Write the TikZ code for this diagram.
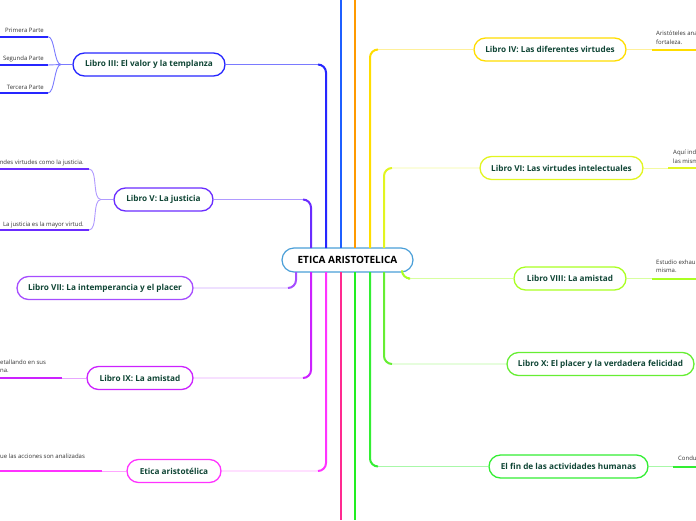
\documentclass[tikz,border=0pt]{standalone}
\usepackage{fontspec}
\setmainfont{Open Sans}
\usetikzlibrary{calc}
\definecolor{txt}{HTML}{0F4535}
\definecolor{leaftxt}{HTML}{333333}
\definecolor{cCen}{HTML}{4A9FD8}
\definecolor{cIII}{HTML}{2626FF}\definecolor{lIII}{HTML}{7A7AFF}
\definecolor{cV}{HTML}{6A2CFF}\definecolor{lV}{HTML}{B09AFF}
\definecolor{cVII}{HTML}{A64DFF}\definecolor{lVII}{HTML}{CFA6FF}
\definecolor{cIX}{HTML}{CC22FF}\definecolor{lIX}{HTML}{E8A6FF}
\definecolor{cEt}{HTML}{FF33FF}\definecolor{lEt}{HTML}{FFA6FF}
\definecolor{cBlue}{HTML}{1F5FFF}
\definecolor{cOr}{HTML}{FF9A00}
\definecolor{cPink}{HTML}{FF2A90}
\definecolor{cGr}{HTML}{22EE22}
\definecolor{cIV}{HTML}{FFDD00}\definecolor{lIV}{HTML}{FFF099}
\definecolor{cVI}{HTML}{E2F520}\definecolor{lVI}{HTML}{F3FAA0}
\definecolor{cVIII}{HTML}{AAFF22}\definecolor{lVIII}{HTML}{D8FFA0}
\definecolor{cX}{HTML}{66EE33}\definecolor{lX}{HTML}{B8F8A0}
\definecolor{cFin}{HTML}{33EE33}\definecolor{lFin}{HTML}{A8F8A8}
\tikzset{
  topic/.style={draw=#1, line width=1.3pt, rounded corners=11.5pt, fill=white,
    minimum height=23pt, inner sep=0pt, text=txt, font=\fontsize{8.2}{9}\selectfont\bfseries},
  leaf/.style={inner sep=0pt, text=leaftxt, font=\fontsize{6}{8.5}\selectfont},
  leafml/.style={leaf, align=left},
  branch/.style={draw=#1, line width=2pt, rounded corners=8pt},
  twig/.style={draw=#1, line width=0.9pt, rounded corners=8pt},
  under/.style={draw=#1, line width=2pt},
}
\begin{document}
\begin{tikzpicture}[x=1pt,y=-1pt]
\useasboundingbox (0,0) rectangle (696,520);
% nodes
\node[draw=cCen, line width=1.2pt, rounded corners=12pt, fill=white, minimum width=131pt,
  minimum height=24pt, inner sep=0pt, font=\fontsize{10}{11}\selectfont\bfseries] (cen) at (347.5,260) {ETICA ARISTOTELICA};
\node[topic=cIII, minimum width=152pt] (lIIIn) at (149,64.5) {Libro III: El valor y la templanza};
\node[topic=cV, minimum width=99pt] (lVn) at (163.5,199.5) {Libro V: La justicia};
\node[topic=cVII, minimum width=176pt] (lVIIn) at (105,288) {Libro VII: La intemperancia y el placer};
\node[topic=cIX, minimum width=106pt] (lIXn) at (140,378) {Libro IX: La amistad};
\node[topic=cEt, minimum width=94pt] (lEtn) at (174,471) {Etica aristotélica};
\node[topic=cIV, minimum width=152pt] (lIVn) at (550,49.5) {Libro IV: Las diferentes virtudes};
\node[topic=cVI, minimum width=163pt] (lVIn) at (561.5,168) {Libro VI: Las virtudes intelectuales};
\node[topic=cVIII, minimum width=112pt] (lVIIIn) at (570,278.5) {Libro VIII: La amistad};
\node[topic=cX, minimum width=187pt] (lXn) at (600.5,364) {Libro X: El placer y la verdadera felicidad};
\node[topic=cFin, minimum width=159pt] (lFinn) at (568.5,466.5) {El fin de las actividades humanas};
% attachment points on the central node
\coordinate (t3) at (326,248); \coordinate (t5) at (311,248);
\coordinate (tb) at (341,248); \coordinate (to) at (355,248);
\coordinate (t4) at (370,248); \coordinate (t6) at (384,248);
\coordinate (b7) at (296,272); \coordinate (b9) at (311,272);
\coordinate (be) at (326,272); \coordinate (bp) at (341,272);
\coordinate (bg) at (355,272); \coordinate (bf) at (370,272);
\coordinate (b10) at (384,272); \coordinate (b8) at (402,272);
\coordinate (eb) at (341,0); \coordinate (eo) at (355,0);
\coordinate (ep) at (341,520); \coordinate (eg) at (355,520);
% straight branches leaving the picture
\draw[branch=cBlue] (tb) -- (eb);
\draw[branch=cOr] (to) -- (eo);
\draw[branch=cPink] (bp) -- (ep);
\draw[branch=cGr] (bg) -- (eg);
% branches to topics: thin light path + thick dark part
\foreach \s/\n/\c/\l/\dx in {t3/lIIIn/cIII/lIII/-8, t5/lVn/cV/lV/-8, b7/lVIIn/cVII/lVII/-8,
   b9/lIXn/cIX/lIX/-8, be/lEtn/cEt/lEt/-8, t4/lIVn/cIV/lIV/8, t6/lVIn/cVI/lVI/8,
   b8/lVIIIn/cVIII/lVIII/6, b10/lXn/cX/lX/8, bf/lFinn/cFin/lFin/8}{
  \draw[twig=\l] (\s) |- (\n);
  \draw[branch=\c] (\s) |- ($(\s |- \n)+(\dx,0)$);
}
% Libro III children
\coordinate (u31) at (48,36.7); \coordinate (u32) at (48,65); \coordinate (u33) at (48,93);
\coordinate (u31a) at (0,36.7); \coordinate (u32a) at (0,65); \coordinate (u33a) at (0,93);
\coordinate (k3) at (61,64.5);
\draw[twig=lIII] (lIIIn.west) -- (k3);
\foreach \u in {u31,u32,u33}{
  \draw[draw=lIII, line width=0.9pt] (k3) .. controls +(-7,0) and +(7,0) .. (\u);
  \draw[under=cIII] (\u) -- (\u a);
}
\node[leaf, anchor=base east] (p1) at (44,32) {Primera Parte};
\node[leaf, anchor=base east] (p2) at (44,60) {Segunda Parte};
\node[leaf, anchor=base east] (p3) at (44,89) {Tercera Parte};
% Libro V children
\coordinate (u51) at (89,169); \coordinate (u52) at (89,230);
\coordinate (u51a) at (0,169); \coordinate (u52a) at (0,230);
\coordinate (k5) at (101,199.5);
\draw[twig=lV] (lVn.west) -- (k5);
\foreach \u in {u51,u52}{
  \draw[draw=lV, line width=0.9pt] (k5) .. controls +(-9,0) and +(9,0) .. (\u);
  \draw[under=cV] (\u) -- (\u a);
}
\node[leaf, anchor=base east] (v1) at (84,164) {ndes virtudes como la justicia.};
\node[leaf, anchor=base east] (v2) at (84,226) {La justicia es la mayor virtud.};
% Libro IX child
\coordinate (u9) at (62,378); \coordinate (u9a) at (0,378);
\draw[twig=lIX] (lIXn.west) -- (u9);
\draw[under=cIX] (u9) -- (u9a);
\node[leafml, anchor=base west] (n9) at (0,372.5) {etallando en sus\\na.};
% Etica aristotelica child
\coordinate (ue) at (102,471); \coordinate (uea) at (0,471);
\draw[twig=lEt] (lEtn.west) -- (ue);
\draw[under=cEt] (ue) -- (uea);
\node[leaf, anchor=base west] (ne) at (0,458) {ue las acciones son analizadas};
% Libro IV child
\coordinate (u4) at (652,49.5); \coordinate (u4a) at (696,49.5);
\draw[twig=lIV] (lIVn.east) -- (u4);
\draw[under=cIV] (u4) -- (u4a);
\node[leafml, anchor=base west] (n4) at (656,44) {Aristóteles ana\\fortaleza.};
% Libro VI child
\coordinate (u6) at (668,168); \coordinate (u6a) at (696,168);
\draw[twig=lVI] (lVIn.east) -- (u6);
\draw[under=cVI] (u6) -- (u6a);
\node[leafml, anchor=base west] (n6) at (673,163) {Aquí indi\\las mism};
% Libro VIII child
\coordinate (u8) at (652,278.5); \coordinate (u8a) at (696,278.5);
\draw[twig=lVIII] (lVIIIn.east) -- (u8);
\draw[under=cVIII] (u8) -- (u8a);
\node[leafml, anchor=base west] (n8) at (656,272.5) {Estudio exhau\\misma.};
% El fin child
\coordinate (uf) at (673,466.5); \coordinate (ufa) at (696,466.5);
\draw[twig=lFin] (lFinn.east) -- (uf);
\draw[under=cFin] (uf) -- (ufa);
\node[leaf, anchor=base west] (nf) at (678,460) {Condu};
\end{tikzpicture}
\end{document}
